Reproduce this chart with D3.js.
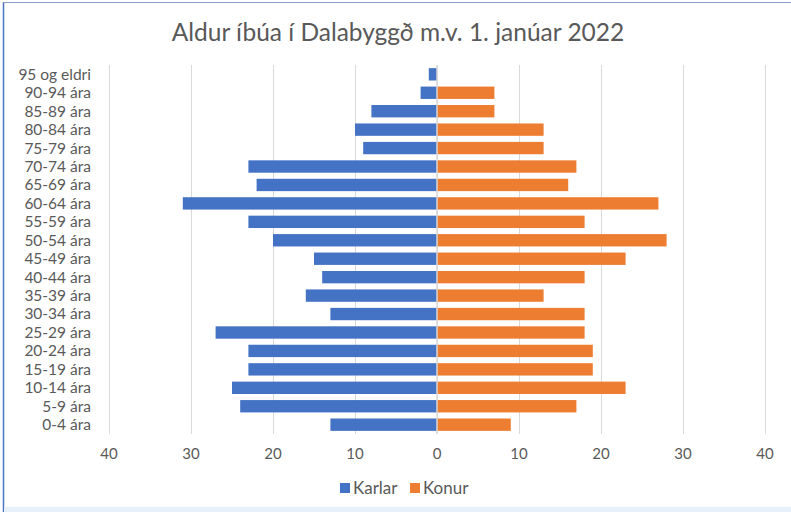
<!DOCTYPE html>
<html>
<head>
<meta charset="utf-8">
<script src="https://cdn.jsdelivr.net/npm/d3@7"></script>
<style>
    body { margin: 0; background: #fff; }
    svg { font-family: Lato, "Open Sans", sans-serif; }
    .grid line { stroke: #d9d9d9; stroke-width: 1; shape-rendering: crispEdges; }
    .grid path { stroke-width: 0; }
</style>
</head>
<body>
<script>
    // age groups, top to bottom as drawn
    var ageGroups = ["95 og eldri", "90-94 ára", "85-89 ára", "80-84 ára", "75-79 ára",
        "70-74 ára", "65-69 ára", "60-64 ára", "55-59 ára", "50-54 ára",
        "45-49 ára", "40-44 ára", "35-39 ára", "30-34 ára", "25-29 ára",
        "20-24 ára", "15-19 ára", "10-14 ára", "5-9 ára", "0-4 ára"];
    var karlar = [1, 2, 8, 10, 9, 23, 22, 31, 23, 20, 15, 14, 16, 13, 27, 23, 23, 25, 24, 13];
    var konur = [0, 7, 7, 13, 13, 17, 16, 27, 18, 28, 23, 18, 13, 18, 18, 19, 19, 23, 17, 9];
    var xTicks = [-40, -30, -20, -10, 0, 10, 20, 30, 40];
    var seriesNames = ["Karlar", "Konur"];
    var seriesColors = ["#4472c4", "#ed7d31"];

    var width = 791, height = 512;
    var svg = d3.select("body").append("svg")
        .attr("width", width)
        .attr("height", height);

    // frame of the screenshot
    svg.append("rect").attr("x", 0).attr("y", 0).attr("width", width).attr("height", height).attr("fill", "#fff");
    svg.append("line").attr("x1", 3.5).attr("x2", 3.5).attr("y1", 2).attr("y2", height)
        .attr("stroke", "#4a74c0").attr("stroke-width", 1.5);
    svg.append("line").attr("x1", 3).attr("x2", width).attr("y1", 2.5).attr("y2", 2.5)
        .attr("stroke", "#8a9fc6").attr("stroke-width", 1);
    svg.append("rect").attr("x", 4).attr("y", 507).attr("width", width).attr("height", 5)
        .attr("fill", "#e6f0fa");

    var x = d3.scaleLinear().domain([-40, 40]).range([109, 765]);
    var y = d3.scaleBand().domain(ageGroups).range([65, 434]).paddingInner(0.33).paddingOuter(0.17);

    svg.append("text")
        .attr("x", 398).attr("y", 41)
        .attr("text-anchor", "middle")
        .attr("font-size", 24.5)
        .attr("fill", "#595959")
        .text("Aldur íbúa í Dalabyggð m.v. 1. janúar 2022");

    // vertical gridlines
    svg.append("g").attr("class", "grid")
        .attr("transform", "translate(0,434)")
        .call(d3.axisBottom(x).tickValues(xTicks).tickSize(-369).tickFormat(""));

    var rows = ageGroups.map(function (g, i) { return { group: g, karlar: karlar[i], konur: konur[i] }; });

    svg.append("g").selectAll("rect").data(rows).enter().append("rect")
        .attr("x", function (d) { return x(-d.karlar); })
        .attr("y", function (d) { return y(d.group); })
        .attr("width", function (d) { return x(0) - x(-d.karlar); })
        .attr("height", y.bandwidth())
        .attr("fill", seriesColors[0]);

    svg.append("g").selectAll("rect").data(rows).enter().append("rect")
        .attr("x", x(0))
        .attr("y", function (d) { return y(d.group); })
        .attr("width", function (d) { return x(d.konur) - x(0); })
        .attr("height", y.bandwidth())
        .attr("fill", seriesColors[1]);

    // category axis line at zero
    svg.append("line")
        .attr("x1", x(0)).attr("x2", x(0)).attr("y1", 65).attr("y2", 434)
        .attr("stroke", "#d9d9d9").attr("stroke-width", 1.5);

    // x tick labels
    svg.append("g").selectAll("text").data(xTicks).enter().append("text")
        .attr("x", function (d) { return x(d); })
        .attr("y", 459)
        .attr("text-anchor", "middle")
        .attr("font-size", 15)
        .attr("fill", "#595959")
        .text(function (d) { return Math.abs(d); });

    // y labels
    svg.append("g").selectAll("text").data(ageGroups).enter().append("text")
        .attr("x", 91)
        .attr("y", function (d) { return y(d) + y.bandwidth() / 2; })
        .attr("dy", "0.35em")
        .attr("text-anchor", "end")
        .attr("font-size", 15.5)
        .attr("fill", "#595959")
        .text(function (d) { return d; });

    // legend
    var legend = svg.append("g").attr("transform", "translate(340,488)");
    var lx = [0, 70];
    seriesNames.forEach(function (name, i) {
        legend.append("rect").attr("x", lx[i]).attr("y", -5).attr("width", 10).attr("height", 10)
            .attr("fill", seriesColors[i]);
        legend.append("text").attr("x", lx[i] + 13).attr("y", 0).attr("dy", "0.35em")
            .attr("font-size", 17).attr("fill", "#595959").text(name);
    });
</script>
</body>
</html>
